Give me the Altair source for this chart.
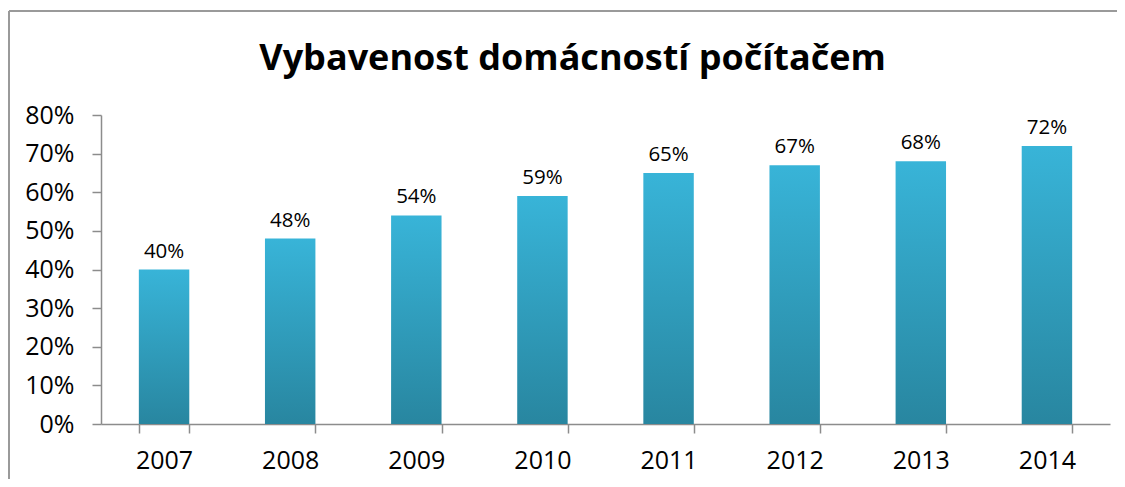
import altair as alt
import pandas as pd

years = ["2007", "2008", "2009", "2010", "2011", "2012", "2013", "2014"]
values = [0.40, 0.48, 0.54, 0.59, 0.65, 0.67, 0.68, 0.72]
labels = ["40%", "48%", "54%", "59%", "65%", "67%", "68%", "72%"]
y_ticks = [0, 0.1, 0.2, 0.3, 0.4, 0.5, 0.6, 0.7, 0.8]

df = pd.DataFrame({"year": years, "value": values, "label": labels})

FONT = "Open Sans"
AXIS_COLOR = "#8c8c8c"

x = alt.X(
    "year:N",
    sort=years,
    scale=alt.Scale(paddingInner=0.6, paddingOuter=0.3),
    axis=alt.Axis(
        title=None,
        labelAngle=0,
        labelFont=FONT,
        labelFontSize=25,
        labelColor="#000000",
        labelPadding=15,
        tickBand="extent",
        tickSize=9,
        tickColor=AXIS_COLOR,
        domainColor=AXIS_COLOR,
        tickWidth=1.5,
        domainWidth=1.5,
    ),
)
y = alt.Y(
    "value:Q",
    scale=alt.Scale(domain=[0, 0.8], nice=False),
    axis=alt.Axis(
        title=None,
        format=".0%",
        values=y_ticks,
        tickCount=9,
        labelOverlap=False,
        labelFont=FONT,
        labelFontSize=25,
        labelColor="#000000",
        labelPadding=18,
        tickSize=9,
        tickColor=AXIS_COLOR,
        domainColor=AXIS_COLOR,
        tickWidth=1.5,
        domainWidth=1.5,
        grid=False,
    ),
)

bars = alt.Chart(df).mark_bar(
    color=alt.Gradient(
        gradient="linear",
        x1=0, x2=0, y1=0, y2=1,
        stops=[
            alt.GradientStop(offset=0, color="#38B4D8"),
            alt.GradientStop(offset=1, color="#2886A0"),
        ],
    )
).encode(x=x, y=y)

text = alt.Chart(df).mark_text(
    baseline="alphabetic", dy=-12, font=FONT, fontSize=20.5, color="#000000"
).encode(x=x, y=y, text="label:N")

base = alt.Chart(pd.DataFrame({"a": [0]}))
frame_top = base.mark_rule(color="#9a9a9a", strokeWidth=2).encode(
    x=alt.value(-92), x2=alt.value(1016), y=alt.value(-104)
)
frame_left = base.mark_rule(color="#9a9a9a", strokeWidth=2).encode(
    x=alt.value(-92), y=alt.value(-104), y2=alt.value(500)
)

chart = alt.layer(frame_top, frame_left, bars, text).properties(
    width=1009,
    height=309,
    padding={"left": 93, "top": 107, "right": 7, "bottom": 55},
    autosize=alt.AutoSizeParams(type="none"),
    title=alt.TitleParams(
        "Vybavenost domácností počítačem",
        font=FONT,
        fontSize=36,
        fontWeight="bold",
        color="#000000",
        anchor="middle",
        frame="group",
        baseline="alphabetic",
        offset=-96,
        dx=-33,
    ),
).configure_view(stroke=None)

chart.save("out.html", embed_options={"renderer": "svg", "actions": False})
